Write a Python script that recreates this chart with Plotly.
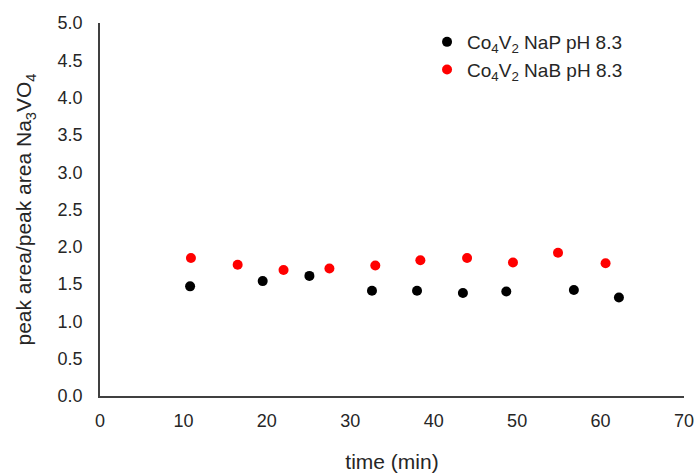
import plotly.graph_objects as go

# Time points (min) and normalised peak-area ratios
time_nap = [10.8, 19.5, 25.1, 32.6, 38.0, 43.5, 48.7, 56.8, 62.2]
ratio_nap = [1.47, 1.54, 1.61, 1.41, 1.41, 1.38, 1.40, 1.42, 1.32]

time_nab = [10.9, 16.5, 22.0, 27.5, 33.0, 38.4, 44.0, 49.5, 54.9, 60.6]
ratio_nab = [1.85, 1.76, 1.69, 1.71, 1.75, 1.82, 1.85, 1.79, 1.92, 1.78]

x_ticks = [0, 10, 20, 30, 40, 50, 60, 70]
y_ticks = [0.0, 0.5, 1.0, 1.5, 2.0, 2.5, 3.0, 3.5, 4.0, 4.5, 5.0]

FONT = "Liberation Sans, Arial, sans-serif"

fig = go.Figure()
fig.add_trace(go.Scatter(
    x=time_nap, y=ratio_nap, mode="markers",
    name="Co<sub>4</sub>V<sub>2</sub> NaP pH 8.3",
    marker=dict(color="black", size=10),
))
fig.add_trace(go.Scatter(
    x=time_nab, y=ratio_nab, mode="markers",
    name="Co<sub>4</sub>V<sub>2</sub> NaB pH 8.3",
    marker=dict(color="#ff0000", size=10),
))

fig.update_layout(
    width=696, height=474,
    margin=dict(l=100, r=12, t=23, b=78),
    paper_bgcolor="white", plot_bgcolor="white",
    font=dict(family=FONT, size=18, color="#262626"),
    showlegend=True,
    legend=dict(
        x=0.56, y=1.0, xanchor="left", yanchor="top",
        bgcolor="rgba(0,0,0,0)", font=dict(size=19, color="#262626"),
        itemwidth=30, tracegroupgap=0,
    ),
    xaxis=dict(
        range=[0, 70], tickmode="array", tickvals=x_ticks,
        ticktext=[str(v) for v in x_ticks],
        showgrid=False, zeroline=False, automargin=False,
        showline=True, linecolor="#404040", linewidth=1.5,
        ticks="", ticklabelstandoff=8,
        title=dict(text="time (min)", font=dict(size=21), standoff=24),
    ),
    yaxis=dict(
        range=[0, 5.0], tickmode="array", tickvals=y_ticks,
        ticktext=[f"{v:.1f}" for v in y_ticks],
        showgrid=False, zeroline=False, automargin=False,
        showline=True, linecolor="#404040", linewidth=1.5,
        ticks="", ticklabelstandoff=12,
        title=dict(text="peak area/peak area Na<sub>3</sub>VO<sub>4</sub>",
                   font=dict(size=21), standoff=20),
    ),
)

fig.write_html("out.html")
